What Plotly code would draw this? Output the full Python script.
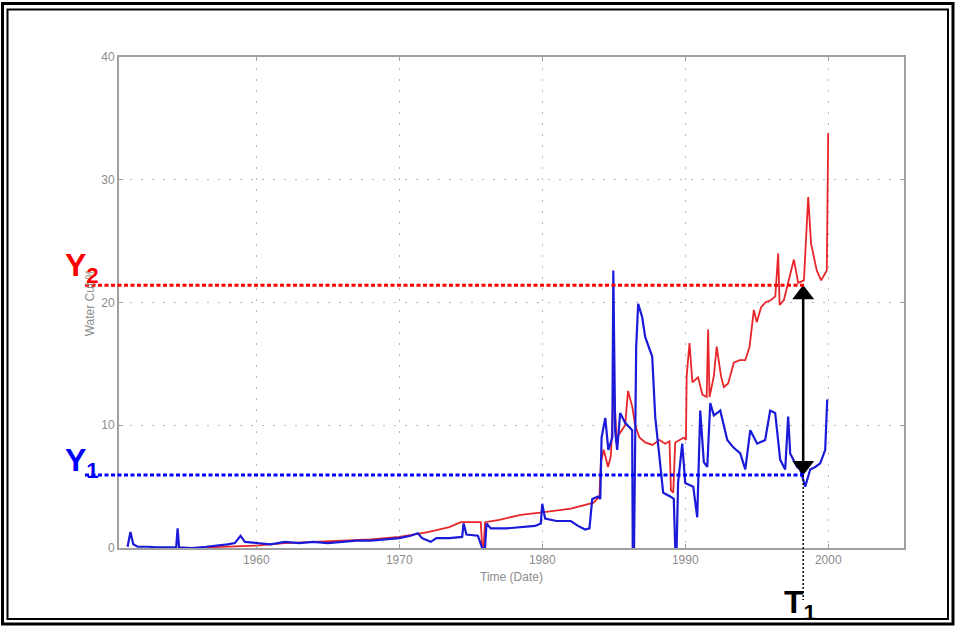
import plotly.graph_objects as go

# ---------------- data ----------------
blue_years = [1951.0, 1951.2, 1951.4, 1951.7, 1952.5, 1953.0, 1954.4, 1954.5, 1954.6, 1955.5,
              1956.5, 1957.5, 1958.0, 1958.5, 1958.9, 1959.2, 1960.0, 1961.0, 1962.0, 1963.0,
              1964.0, 1965.0, 1966.0, 1967.0, 1968.0, 1969.0, 1970.0, 1970.8, 1971.3, 1971.6,
              1972.2, 1972.6, 1973.5, 1974.4, 1974.5, 1974.7, 1975.5, 1975.8, 1976.0, 1976.1,
              1976.4, 1977.5, 1978.5, 1979.5, 1979.9, 1980.0, 1980.2, 1981.0, 1982.0, 1982.5,
              1983.0, 1983.3, 1983.5, 1983.9, 1984.06, 1984.15, 1984.41, 1984.62, 1984.90, 1984.97,
              1985.1, 1985.24, 1985.45, 1985.8, 1986.29, 1986.33, 1986.42, 1986.57, 1986.71, 1986.99,
              1987.2, 1987.69, 1987.9, 1988.11, 1988.46, 1988.95, 1989.2, 1989.3, 1989.4, 1989.5,
              1989.79, 1990.0, 1990.56, 1990.84, 1991.05, 1991.3, 1991.54, 1991.75, 1992.0, 1992.24,
              1992.45, 1992.94, 1993.36, 1993.85, 1994.2, 1994.55, 1995.03, 1995.59, 1995.94, 1996.29,
              1996.64, 1996.99, 1997.2, 1997.34, 1997.83, 1998.04, 1998.39, 1998.74, 1999.09, 1999.44,
              1999.79, 1999.93]
blue_values = [0.1, 1.3, 0.3, 0.1, 0.1, 0.05, 0.05, 1.6, 0.05, 0.0,
               0.1, 0.2, 0.3, 0.4, 1.0, 0.5, 0.4, 0.3, 0.5, 0.4,
               0.5, 0.4, 0.5, 0.6, 0.6, 0.7, 0.8, 1.0, 1.2, 0.8,
               0.5, 0.8, 0.8, 0.9, 2.0, 1.1, 1.0, 0.0, 0.0, 2.0,
               1.6, 1.6, 1.7, 1.8, 2.0, 3.6, 2.4, 2.2, 2.2, 1.8,
               1.5, 1.6, 4.0, 4.2, 4.0, 9.0, 10.6, 8.0, 9.0, 22.6,
               9.5, 8.0, 11.0, 10.2, 9.6, 0.0, 0.0, 16.4, 19.9, 18.8,
               17.2, 15.6, 10.7, 8.5, 4.5, 4.2, 4.0, 0.0, 0.0, 5.3,
               8.5, 5.3, 5.0, 2.5, 11.2, 7.0, 6.6, 11.8, 10.8, 11.0,
               11.2, 8.8, 8.2, 7.7, 6.4, 9.6, 8.5, 8.8, 11.2, 11.0,
               7.2, 6.4, 10.7, 7.7, 6.6, 6.4, 5.0, 6.4, 6.6, 6.9,
               8.0, 12.1]

red_years = [1956.5, 1958.0, 1960.0, 1962.0, 1964.0, 1966.0, 1968.0, 1970.0, 1972.0, 1973.5,
             1974.3, 1975.7, 1975.8, 1975.9, 1976.0, 1977.0, 1978.5, 1980.0, 1982.0, 1983.6,
             1984.0, 1984.1, 1984.3, 1984.6, 1984.8, 1985.0, 1985.2, 1985.45, 1985.8, 1986.0,
             1986.3, 1986.5, 1986.8, 1987.2, 1987.7, 1988.2, 1988.6, 1988.9, 1989.0, 1989.16,
             1989.3, 1989.9, 1990.05, 1990.1, 1990.3, 1990.5, 1990.9, 1991.2, 1991.5, 1991.6,
             1991.7, 1992.0, 1992.2, 1992.5, 1992.7, 1993.0, 1993.4, 1993.8, 1994.2, 1994.5,
             1994.8, 1995.0, 1995.3, 1995.6, 1996.0, 1996.3, 1996.5, 1996.6, 1996.9, 1997.3,
             1997.6, 1997.9, 1998.3, 1998.6, 1998.8, 1999.2, 1999.5, 1999.8, 1999.9, 2000.0]
red_values = [0.05, 0.1, 0.2, 0.4, 0.5, 0.6, 0.7, 0.9, 1.3, 1.7,
              2.1, 2.1, 0.1, 0.1, 2.1, 2.3, 2.7, 2.9, 3.2, 3.7,
              4.2, 7.0, 8.0, 6.6, 7.5, 13.0, 9.0, 9.4, 10.0, 12.8,
              11.5, 10.0, 9.0, 8.6, 8.4, 8.8, 8.5, 8.7, 4.7, 4.5,
              8.6, 9.0, 8.8, 14.0, 16.7, 13.5, 13.9, 12.5, 12.3, 17.8,
              12.3, 14.0, 16.4, 14.0, 13.1, 13.4, 15.1, 15.3, 15.3, 16.4,
              19.4, 18.4, 19.6, 20.0, 20.2, 20.5, 24.0, 19.8, 20.2, 22.1,
              23.5, 21.6, 21.8, 28.6, 24.8, 22.6, 21.8, 22.4, 22.6, 33.8]

x_ticks = [1960, 1970, 1980, 1990, 2000]
x_tick_labels = ["1960", "1970", "1980", "1990", "2000"]
y_ticks = [0, 10, 20, 30, 40]
y_tick_labels = ["0", "10", "20", "30", "40"]

Y2 = 21.4
Y1 = 5.95
T1 = 1998.25

X_RANGE = [1950.4, 2005.3]
Y_RANGE = [0, 40]

# ---------------- layout geometry ----------------
W, H = 956, 627
L, R, T, B = 119, 904, 57, 548


def px(xp):
    return (xp - L) / (R - L)


def py(yp):
    return (B - yp) / (B - T)


FONT = "Liberation Sans, Arial, sans-serif"
GRAY = "#8c8c8c"

fig = go.Figure()
fig.add_trace(go.Scatter(x=red_years, y=red_values, mode="lines",
                         line=dict(color="#e8262a", width=1.8), hoverinfo="skip"))
fig.add_trace(go.Scatter(x=blue_years, y=blue_values, mode="lines",
                         line=dict(color="#1a1ad8", width=2.2), hoverinfo="skip"))

# double-headed arrow between Y1 and Y2 at T1
fig.add_trace(go.Scatter(x=[T1, T1], y=[Y2 - 0.6, Y1 + 0.6], mode="lines",
                         line=dict(color="black", width=2.5), hoverinfo="skip"))
fig.add_trace(go.Scatter(x=[T1], y=[Y2 - 0.75], mode="markers",
                         marker=dict(symbol="triangle-up", size=19, color="black"),
                         hoverinfo="skip"))
fig.add_trace(go.Scatter(x=[T1], y=[Y1 + 0.75], mode="markers",
                         marker=dict(symbol="triangle-down", size=19, color="black"),
                         hoverinfo="skip"))

shapes = [
    # outer double frame
    dict(type="rect", xref="paper", yref="paper", x0=px(2.5), y0=py(3.5), x1=px(953), y1=py(624),
         line=dict(color="black", width=3)),
    dict(type="rect", xref="paper", yref="paper", x0=px(7.5), y0=py(9.5), x1=px(948), y1=py(619),
         line=dict(color="black", width=2)),
    # Y2 / Y1 reference lines
    dict(type="line", xref="paper", yref="y", x0=px(85), x1=px(806), y0=Y2, y1=Y2,
         line=dict(color="#ff0000", width=3, dash="4px,2.5px")),
    dict(type="line", xref="paper", yref="y", x0=px(85), x1=px(806), y0=Y1, y1=Y1,
         line=dict(color="#0000ff", width=3, dash="4px,2.5px")),
    # T1 drop line
    dict(type="line", xref="x", yref="paper", x0=T1, x1=T1,
         y0=(Y1 - Y_RANGE[0]) / (Y_RANGE[1] - Y_RANGE[0]), y1=py(600),
         line=dict(color="black", width=1.5, dash="2px,2px")),
]

annotations = [
    dict(xref="paper", yref="paper", x=px(63), y=py(290), xanchor="left", yanchor="bottom",
         text="<b>Y<sub>2</sub></b>", showarrow=False,
         font=dict(family=FONT, size=32, color="#ff0000")),
    dict(xref="paper", yref="paper", x=px(63), y=py(485), xanchor="left", yanchor="bottom",
         text="<b>Y<sub>1</sub></b>", showarrow=False,
         font=dict(family=FONT, size=32, color="#0000ff")),
    dict(xref="paper", yref="paper", x=px(782), y=py(627), xanchor="left", yanchor="bottom",
         text="<b>T<sub>1</sub></b>", showarrow=False,
         font=dict(family=FONT, size=32, color="black")),
]

axis_common = dict(
    showline=True, mirror="ticks", linecolor="#a0a0a0", linewidth=2,
    ticks="inside", ticklen=4, tickcolor="#a0a0a0",
    showgrid=True, gridcolor="#b8b8b8", gridwidth=1, griddash="2px,9px",
    zeroline=False, tickfont=dict(family=FONT, size=12, color=GRAY),
)

fig.update_layout(
    width=W, height=H, autosize=False,
    margin=dict(l=L, r=W - R, t=T, b=H - B, pad=0),
    paper_bgcolor="white", plot_bgcolor="white",
    showlegend=False,
    xaxis=dict(range=X_RANGE, tickvals=x_ticks, ticktext=x_tick_labels,
               title=dict(text="Time (Date)", standoff=6,
                          font=dict(family=FONT, size=12, color=GRAY)),
               **axis_common),
    yaxis=dict(range=Y_RANGE, tickvals=y_ticks, ticktext=y_tick_labels,
               title=dict(text="Water Cut %", standoff=4,
                          font=dict(family=FONT, size=12, color=GRAY)),
               **axis_common),
    shapes=shapes,
    annotations=annotations,
)

fig.write_html("out.html", config={"displayModeBar": False},
               post_script="document.body.style.margin='0px';document.body.style.overflow='hidden';")
